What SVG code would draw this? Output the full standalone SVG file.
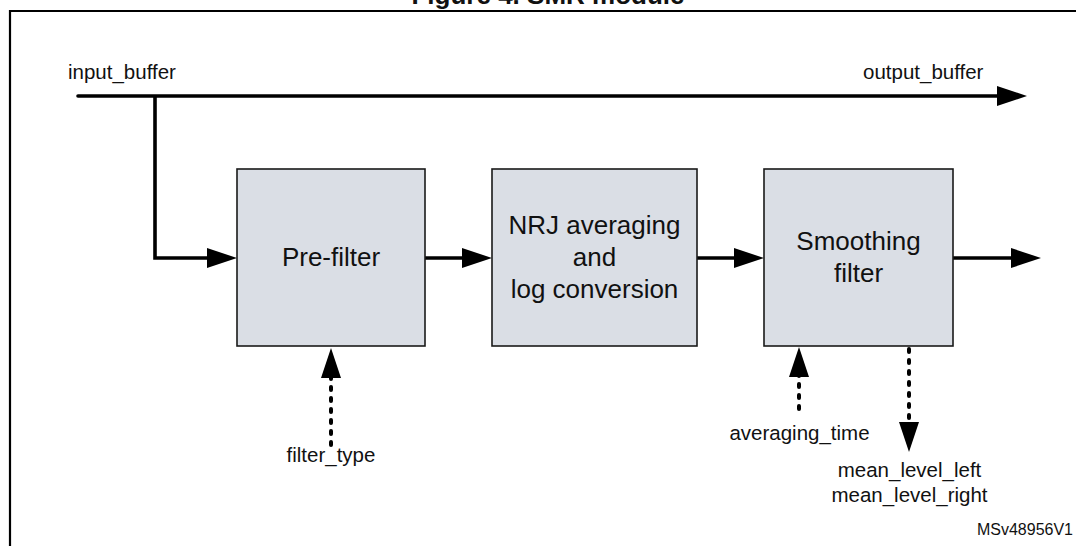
<svg xmlns="http://www.w3.org/2000/svg" width="1076" height="546" viewBox="0 0 1076 546">
<style>
text{font-family:"Liberation Sans",Arial,sans-serif;fill:#111}
.title{font-size:26px;font-weight:bold}
.lbl{font-size:20.5px}
.box rect{fill:#dadee5;stroke:#1a1a1a;stroke-width:1.6}
.box text{font-size:26px;text-anchor:middle}
.flow{fill:none;stroke:#000;stroke-width:3.6}
.dot{fill:none;stroke:#000;stroke-width:4;stroke-linecap:round;stroke-dasharray:3 8}
.frame{fill:none;stroke:#000;stroke-width:2.2}
</style>
<defs>
<marker id="ah" markerUnits="userSpaceOnUse" markerWidth="30" markerHeight="20" refX="2" refY="10" orient="auto" overflow="visible">
<path d="M0,0 L30,10 L0,20 Z" fill="#000"/>
</marker>
</defs>
<rect width="1076" height="546" fill="#fff"/>
<text class="title" x="548" y="4" text-anchor="middle">Figure 4. SMR module</text>
<path class="frame" d="M10,548 V11 H1080"/>
<g id="connectors">
<path class="flow" d="M78,96 H999" stroke-linecap="round" marker-end="url(#ah)"/>
<path class="flow" d="M155,96 V258 H209" marker-end="url(#ah)"/>
<path class="flow" d="M425,258 H464" marker-end="url(#ah)"/>
<path class="flow" d="M697,258 H736" marker-end="url(#ah)"/>
<path class="flow" d="M953,258 H1013" marker-end="url(#ah)"/>
<path class="dot" d="M331,445 V376" marker-end="url(#ah)"/>
<path class="dot" d="M799,409 V375" marker-end="url(#ah)"/>
<path class="dot" d="M909,349 V424" marker-end="url(#ah)"/>
</g>
<g id="prefilter" class="box">
<rect x="237" y="169" width="188" height="177"/>
<text x="331" y="266">Pre-filter</text>
</g>
<g id="nrj" class="box">
<rect x="492" y="169" width="205" height="177"/>
<text x="594.5" y="234">NRJ averaging</text>
<text x="594.5" y="266">and</text>
<text x="594.5" y="298">log conversion</text>
</g>
<g id="smoothing" class="box">
<rect x="764" y="169" width="189" height="177"/>
<text x="858.5" y="250">Smoothing</text>
<text x="858.5" y="282">filter</text>
</g>
<g id="labels">
<text class="lbl" x="68" y="79">input_buffer</text>
<text class="lbl" x="863" y="79">output_buffer</text>
<text class="lbl" x="331" y="462" text-anchor="middle">filter_type</text>
<text class="lbl" x="799.5" y="440" text-anchor="middle">averaging_time</text>
<text class="lbl" x="909.5" y="477" text-anchor="middle">mean_level_left</text>
<text class="lbl" x="909.5" y="502" text-anchor="middle">mean_level_right</text>
<text x="1073" y="535" text-anchor="end" font-size="16px">MSv48956V1</text>
</g>
</svg>
